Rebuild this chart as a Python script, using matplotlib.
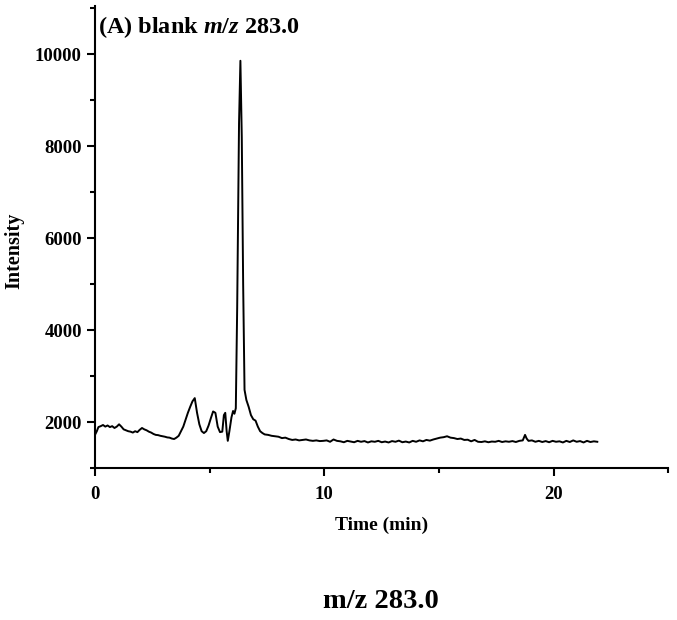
import numpy as np
import matplotlib
matplotlib.use("Agg")
import matplotlib.pyplot as plt
from matplotlib.ticker import MultipleLocator

plt.rcParams['font.family'] = ['Liberation Serif', 'DejaVu Serif']
plt.rcParams['font.weight'] = 'bold'
plt.rcParams['mathtext.fontset'] = 'custom'
plt.rcParams['mathtext.it'] = 'Liberation Serif:italic:bold'
plt.rcParams['mathtext.rm'] = 'Liberation Serif:bold'

## 크로마토그램 데이터
time_min = [
    0.00, 0.08, 0.15, 0.25, 0.35, 0.45, 0.55, 0.65, 0.75, 0.85, 0.95, 1.05, 1.15, 1.25,
    1.35, 1.45, 1.55, 1.65, 1.75, 1.85, 1.95, 2.05, 2.15, 2.25, 2.35, 2.45, 2.55, 2.65,
    2.75, 2.85, 2.95, 3.05, 3.15, 3.25, 3.35, 3.45, 3.55, 3.65, 3.75, 3.85, 3.95, 4.05,
    4.15, 4.25, 4.35, 4.45, 4.55, 4.65, 4.75, 4.85, 4.95, 5.05, 5.15, 5.25, 5.35, 5.45,
    5.55, 5.62, 5.68, 5.74, 5.79, 5.86, 5.95, 6.02, 6.08, 6.14, 6.20, 6.28, 6.34, 6.40,
    6.46, 6.52, 6.60, 6.70, 6.80, 6.90, 7.00, 7.10, 7.20, 7.30, 7.40, 7.55, 7.70, 7.85,
    8.00, 8.15, 8.30, 8.45, 8.60, 8.75, 8.90, 9.05, 9.20, 9.35, 9.50, 9.65, 9.80, 9.95,
    10.10, 10.25, 10.40, 10.55, 10.70, 10.85, 11.00, 11.15, 11.30, 11.45, 11.60, 11.75,
    11.90, 12.05, 12.20, 12.35, 12.50, 12.65, 12.80, 12.95, 13.10, 13.25, 13.40, 13.55,
    13.70, 13.85, 14.00, 14.15, 14.30, 14.45, 14.60, 14.75, 14.90, 15.05, 15.20, 15.35,
    15.50, 15.65, 15.80, 15.95, 16.10, 16.25, 16.40, 16.55, 16.70, 16.85, 17.00, 17.15,
    17.30, 17.45, 17.60, 17.75, 17.90, 18.05, 18.20, 18.35, 18.50, 18.65, 18.75, 18.82,
    18.90, 19.05, 19.20, 19.35, 19.50, 19.65, 19.80, 19.95, 20.10, 20.25, 20.40, 20.55,
    20.70, 20.85, 21.00, 21.15, 21.30, 21.45, 21.60, 21.75, 21.90,
]
intensity = [
    1720, 1800, 1890, 1910, 1935, 1900, 1925, 1890, 1910, 1870, 1900, 1950, 1900, 1840,
    1820, 1800, 1790, 1770, 1800, 1780, 1830, 1870, 1840, 1820, 1790, 1770, 1740, 1720,
    1715, 1700, 1690, 1680, 1665, 1660, 1640, 1630, 1660, 1700, 1800, 1900, 2050, 2200,
    2330, 2450, 2520, 2200, 1950, 1800, 1760, 1800, 1920, 2080, 2230, 2200, 1900, 1780,
    1790, 2150, 2200, 1800, 1590, 1800, 2100, 2240, 2180, 2300, 4500, 8500, 9860, 8200,
    5000, 2700, 2480, 2330, 2150, 2060, 2030, 1900, 1800, 1760, 1730, 1720, 1700, 1690,
    1680, 1650, 1660, 1630, 1610, 1620, 1600, 1610, 1620, 1600, 1590, 1600, 1585, 1590,
    1600, 1570, 1620, 1590, 1580, 1560, 1590, 1575, 1560, 1590, 1570, 1585,
    1555, 1580, 1570, 1590, 1560, 1575, 1555, 1585, 1570, 1595, 1560, 1575,
    1555, 1590, 1570, 1600, 1580, 1610, 1595, 1620, 1640, 1660, 1670, 1690,
    1660, 1650, 1630, 1640, 1610, 1615, 1580, 1610, 1570, 1565, 1580, 1560,
    1575, 1570, 1590, 1565, 1580, 1570, 1585, 1565, 1590, 1600, 1720, 1640,
    1590, 1600, 1570, 1590, 1565, 1585, 1560, 1590, 1570, 1580, 1555, 1590,
    1565, 1600, 1570, 1585, 1555, 1590, 1565, 1580, 1570,
]

fig = plt.figure(figsize=(6.77, 6.2), dpi=100)
ax = fig.add_axes([0.1403, 0.2452, 0.847, 0.745])

ax.plot(time_min, intensity, color='black', lw=1.4)

ax.set_xlim(0, 25)
ax.set_ylim(1000, 11050)
ax.xaxis.set_major_locator(MultipleLocator(10))
ax.xaxis.set_minor_locator(MultipleLocator(5))
ax.yaxis.set_minor_locator(MultipleLocator(1000))
ax.set_yticks([2000, 4000, 6000, 8000, 10000])

for s in ['top', 'right']:
    ax.spines[s].set_visible(False)
for s in ['left', 'bottom']:
    ax.spines[s].set_linewidth(1.5)

ax.tick_params(which='major', direction='out', length=6, width=1.5, labelsize=13.5)
ax.tick_params(axis='x', which='major', pad=7)
ax.tick_params(which='minor', direction='out', length=3.5, width=1.5)
for lab in ax.get_xticklabels() + ax.get_yticklabels():
    lab.set_fontweight('bold')

ax.set_xlabel('Time (min)', fontsize=14, fontweight='bold', labelpad=10)
ax.set_ylabel('Intensity', fontsize=14.5, fontweight='bold', labelpad=10)
ax.yaxis.set_label_coords(-0.124, 0.47)

fig.text(0.1448, 0.9468, r'(A) blank $\mathit{m/z}$ 283.0',
         fontsize=17.5, fontweight='bold', va='baseline', ha='left')

fig.text(0.563, 0.0194, 'm/z 283.0', fontsize=20.5, fontweight='bold', ha='center', va='baseline')

fig.savefig('out.png', dpi=100)
